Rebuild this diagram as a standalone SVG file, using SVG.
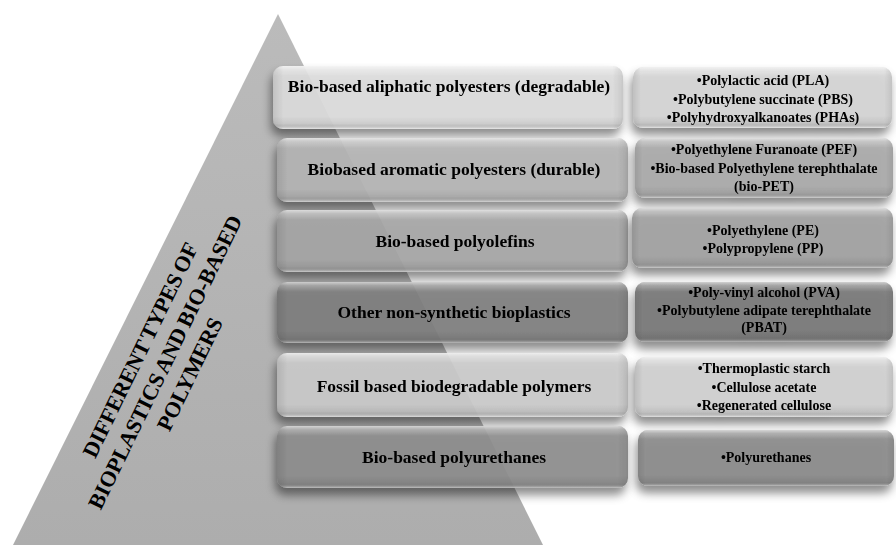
<svg xmlns="http://www.w3.org/2000/svg" width="896" height="545" viewBox="0 0 896 545">
<defs>
<linearGradient id="triG" x1="0" y1="0" x2="0" y2="1">
<stop offset="0" stop-color="#bbbbbb"/>
<stop offset="1" stop-color="#adadad"/>
</linearGradient>
<linearGradient id="bevV" x1="0" y1="0" x2="0" y2="1">
<stop offset="0" stop-color="#fff" stop-opacity="0.6"/>
<stop offset="0.06" stop-color="#fff" stop-opacity="0.25"/>
<stop offset="0.16" stop-color="#fff" stop-opacity="0"/>
<stop offset="0.8" stop-color="#000" stop-opacity="0"/>
<stop offset="0.92" stop-color="#000" stop-opacity="0.07"/>
<stop offset="1" stop-color="#fff" stop-opacity="0.45"/>
</linearGradient>
<linearGradient id="bevH" x1="0" y1="0" x2="1" y2="0">
<stop offset="0" stop-color="#000" stop-opacity="0.1"/>
<stop offset="0.03" stop-color="#000" stop-opacity="0"/>
<stop offset="0.97" stop-color="#000" stop-opacity="0"/>
<stop offset="1" stop-color="#000" stop-opacity="0.1"/>
</linearGradient>
<filter id="shadow" x="-10%" y="-30%" width="120%" height="180%">
<feGaussianBlur in="SourceAlpha" stdDeviation="5"/>
<feOffset dx="-2" dy="7" result="b"/>
<feFlood flood-color="#000" flood-opacity="0.5"/>
<feComposite in2="b" operator="in"/>
<feMerge><feMergeNode/><feMergeNode in="SourceGraphic"/></feMerge>
</filter>
</defs>
<style>
.box{fill-opacity:0.88}
.bv{fill:url(#bevV)}
.bh{fill:url(#bevH)}
.lt{font-family:"Liberation Serif","Times New Roman",serif;font-weight:bold;font-size:17.5px;fill:#000;text-anchor:middle}
.rt{font-family:"Liberation Serif","Times New Roman",serif;font-weight:bold;font-size:14px;fill:#000;text-anchor:middle}
.tt{font-family:"Liberation Serif","Times New Roman",serif;font-weight:bold;font-size:22px;fill:#000;text-anchor:middle}
</style>
<rect width="896" height="545" fill="#fff"/>
<g id="pyramid">
<polygon points="278,14 13,545 543,545" fill="url(#triG)"/>
<g transform="translate(165,362) rotate(-64)">
<text class="tt" x="0" y="-20" word-spacing="-1.5">DIFFERENT TYPES OF</text>
<text class="tt" x="0" y="7.5" word-spacing="-1.5">BIOPLASTICS AND BIO-BASED</text>
<text class="tt" x="0" y="35">POLYMERS</text>
</g>
</g>
<g id="connectors"/>
<g id="row1-left" filter="url(#shadow)">
<rect class="box" x="273" y="66" width="350" height="63" rx="10" fill="#dfdfdf"/>
<rect class="bv" x="273" y="66" width="350" height="63" rx="10"/>
<rect class="bh" x="273" y="66" width="350" height="63" rx="10"/>
<text class="lt" x="449" y="92">Bio-based aliphatic polyesters (degradable)</text>
</g>
<g id="row1-right" filter="url(#shadow)">
<rect class="box" x="633" y="67" width="259" height="61" rx="10" fill="#d6d6d6"/>
<rect class="bv" x="633" y="67" width="259" height="61" rx="10"/>
<rect class="bh" x="633" y="67" width="259" height="61" rx="10"/>
<text class="rt" x="763" y="85">•Polylactic acid (PLA)</text>
<text class="rt" x="763" y="104">•Polybutylene succinate (PBS)</text>
<text class="rt" x="763" y="122">•Polyhydroxyalkanoates (PHAs)</text>
</g>
<g id="row2-left" filter="url(#shadow)">
<rect class="box" x="277" y="138" width="351" height="64" rx="10" fill="#b6b6b6"/>
<rect class="bv" x="277" y="138" width="351" height="64" rx="10"/>
<rect class="bh" x="277" y="138" width="351" height="64" rx="10"/>
<text class="lt" x="454" y="175">Biobased aromatic polyesters (durable)</text>
</g>
<g id="row2-right" filter="url(#shadow)">
<rect class="box" x="635" y="138" width="258" height="60" rx="10" fill="#ababab"/>
<rect class="bv" x="635" y="138" width="258" height="60" rx="10"/>
<rect class="bh" x="635" y="138" width="258" height="60" rx="10"/>
<text class="rt" x="764" y="154">•Polyethylene Furanoate (PEF)</text>
<text class="rt" x="764" y="173">•Bio-based Polyethylene terephthalate</text>
<text class="rt" x="764" y="191">(bio-PET)</text>
</g>
<g id="row3-left" filter="url(#shadow)">
<rect class="box" x="277" y="210" width="351" height="62" rx="10" fill="#a7a7a7"/>
<rect class="bv" x="277" y="210" width="351" height="62" rx="10"/>
<rect class="bh" x="277" y="210" width="351" height="62" rx="10"/>
<text class="lt" x="455" y="247">Bio-based polyolefins</text>
</g>
<g id="row3-right" filter="url(#shadow)">
<rect class="box" x="632" y="208" width="261" height="60" rx="10" fill="#a2a2a2"/>
<rect class="bv" x="632" y="208" width="261" height="60" rx="10"/>
<rect class="bh" x="632" y="208" width="261" height="60" rx="10"/>
<text class="rt" x="763" y="235">•Polyethylene (PE)</text>
<text class="rt" x="763" y="253">•Polypropylene (PP)</text>
</g>
<g id="row4-left" filter="url(#shadow)">
<rect class="box" x="277" y="282" width="351" height="61" rx="10" fill="#7f7f7f"/>
<rect class="bv" x="277" y="282" width="351" height="61" rx="10"/>
<rect class="bh" x="277" y="282" width="351" height="61" rx="10"/>
<text class="lt" x="454" y="318">Other non-synthetic bioplastics</text>
</g>
<g id="row4-right" filter="url(#shadow)">
<rect class="box" x="635" y="282" width="258" height="60" rx="10" fill="#787878"/>
<rect class="bv" x="635" y="282" width="258" height="60" rx="10"/>
<rect class="bh" x="635" y="282" width="258" height="60" rx="10"/>
<text class="rt" x="764" y="297">•Poly-vinyl alcohol (PVA)</text>
<text class="rt" x="764" y="315">•Polybutylene adipate terephthalate</text>
<text class="rt" x="764" y="332">(PBAT)</text>
</g>
<g id="row5-left" filter="url(#shadow)">
<rect class="box" x="277" y="353" width="351" height="64" rx="10" fill="#cdcdcd"/>
<rect class="bv" x="277" y="353" width="351" height="64" rx="10"/>
<rect class="bh" x="277" y="353" width="351" height="64" rx="10"/>
<text class="lt" x="454" y="392">Fossil based biodegradable polymers</text>
</g>
<g id="row5-right" filter="url(#shadow)">
<rect class="box" x="635" y="357" width="258" height="60" rx="10" fill="#d2d2d2"/>
<rect class="bv" x="635" y="357" width="258" height="60" rx="10"/>
<rect class="bh" x="635" y="357" width="258" height="60" rx="10"/>
<text class="rt" x="764" y="373">•Thermoplastic starch</text>
<text class="rt" x="764" y="392">•Cellulose acetate</text>
<text class="rt" x="764" y="410">•Regenerated cellulose</text>
</g>
<g id="row6-left" filter="url(#shadow)">
<rect class="box" x="277" y="426" width="351" height="62" rx="10" fill="#8f8f8f"/>
<rect class="bv" x="277" y="426" width="351" height="62" rx="10"/>
<rect class="bh" x="277" y="426" width="351" height="62" rx="10"/>
<text class="lt" x="454" y="463">Bio-based polyurethanes</text>
</g>
<g id="row6-right" filter="url(#shadow)">
<rect class="box" x="638" y="430" width="256" height="56" rx="10" fill="#8b8b8b"/>
<rect class="bv" x="638" y="430" width="256" height="56" rx="10"/>
<rect class="bh" x="638" y="430" width="256" height="56" rx="10"/>
<text class="rt" x="766" y="462">•Polyurethanes</text>
</g>
</svg>
